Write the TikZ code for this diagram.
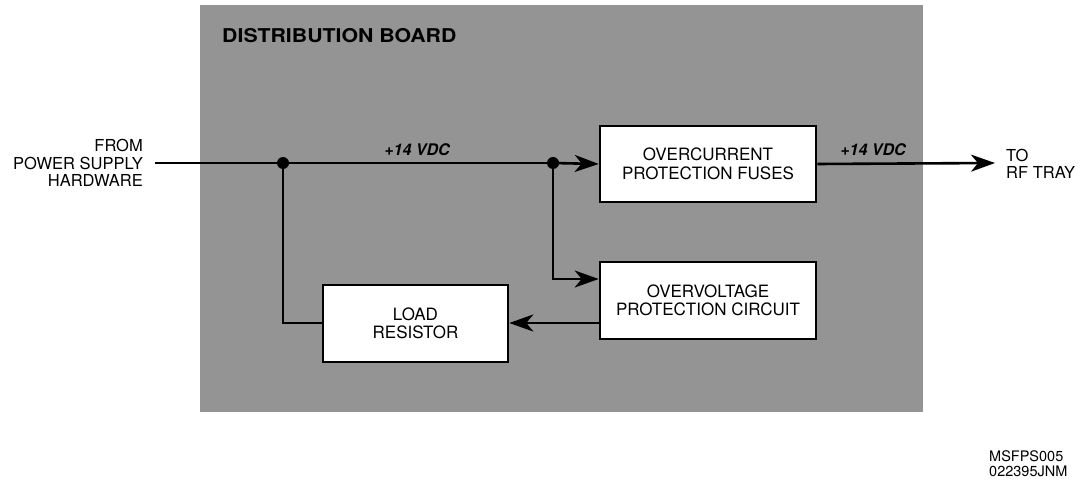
\documentclass[tikz,border=0pt]{standalone}
\usepackage{fontspec}
\setmainfont{TeX Gyre Heros}
\usetikzlibrary{arrows.meta}
\definecolor{board}{RGB}{148,148,148}
\tikzset{
  blk/.style={draw=black, line width=2.6pt, fill=white, inner sep=0pt, align=center, font=\fontsize{17}{18.5}\selectfont},
  wire/.style={line width=2.6pt},
  arr/.style={wire, -{Stealth[length=24pt,width=17pt,inset=7pt]}},
  dot/.style={circle, fill=black, inner sep=0pt, minimum size=12pt},
  lbl/.style={font=\fontsize{16.5}{17.5}\selectfont, inner sep=0pt},
  vdc/.style={font=\bfseries\itshape\fontsize{16}{18}\selectfont, inner sep=0pt}
}
\begin{document}
\begin{tikzpicture}[x=1pt,y=-1pt]
\useasboundingbox (0,0) rectangle (1081,481);
\fill[board] (200,5) rectangle (923,412);
\node[anchor=west, font=\bfseries\fontsize{19}{21}\selectfont, inner sep=0pt, xscale=1.12] (title) at (222,36) {DISTRIBUTION BOARD};
% boxes
\node[blk, minimum width=216pt, minimum height=76pt] (ocp) at (708,164) {OVERCURRENT\\PROTECTION FUSES};
\node[blk, minimum width=216pt, minimum height=77pt] (ovp) at (708,300.5) {OVERVOLTAGE\\PROTECTION CIRCUIT};
\node[blk, minimum width=185pt, minimum height=77pt] (load) at (415.5,323.5) {LOAD\\RESISTOR};
% labels
\node[lbl, anchor=east, align=right] (from) at (143,163) {FROM\\POWER SUPPLY\\HARDWARE};
\node[lbl, anchor=west, align=left] (to) at (1006,164) {TO\\RF TRAY};
\node[vdc] (v1) at (417,150) {+14 VDC};
\node[vdc] (v2) at (873,150) {+14 VDC};
% coordinates
\coordinate (in) at (155,163);
\coordinate (j1) at (283,163);
\coordinate (j2) at (553,163);
\coordinate (outend) at (995,163);
\coordinate (c1) at (283,323);
\coordinate (c2) at (553,279);
% wires
\draw[wire] (in) -- (j1) -- (j2);
\draw[arr] (j2) -- (ocp.west);
\draw[arr] (ocp.east) -- (outend);
\draw[arr] (j2) -- (c2) -- (c2 -| ovp.west);
\draw[arr] (ovp.west |- c1) -- (load.east |- c1);
\draw[wire] (j1) -- (c1) -- (load.west |- c1);
\node[dot] (d1) at (j1) {};
\node[dot] (d2) at (j2) {};
\node[font=\fontsize{14.5}{15}\selectfont, anchor=north west, align=left, inner sep=0pt] (ref) at (989,450) {MSFPS005\\022395JNM};
\end{tikzpicture}
\end{document}
